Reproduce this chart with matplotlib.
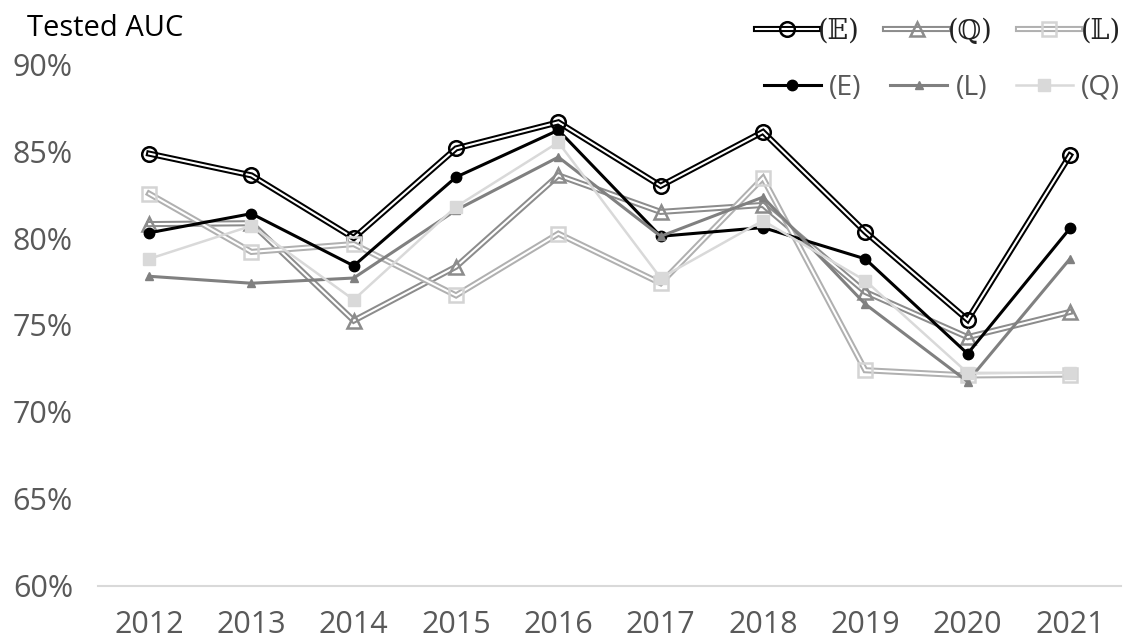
import numpy as np
import matplotlib.pyplot as plt
from matplotlib.legend_handler import HandlerTuple

# 年ごとの AUC (%)
years = ["2012", "2013", "2014", "2015", "2016", "2017", "2018", "2019", "2020", "2021"]
auc_E2 = [84.85, 83.6, 80.0, 85.15, 86.65, 83.0, 86.1, 80.35, 75.3, 84.75]
auc_Q2 = [80.8, 80.85, 75.25, 78.35, 83.6, 81.5, 81.9, 76.9, 74.3, 75.75]
auc_L2 = [82.55, 79.2, 79.65, 76.7, 80.25, 77.4, 83.45, 72.4, 72.1, 72.15]
auc_E = [80.3, 81.4, 78.4, 83.5, 86.2, 80.1, 80.6, 78.8, 73.35, 80.55]
auc_L = [77.8, 77.4, 77.7, 81.6, 84.65, 80.1, 82.35, 76.2, 71.75, 78.8]
auc_Q = [78.8, 80.7, 76.45, 81.8, 85.5, 77.7, 81.0, 77.55, 72.25, 72.25]

x = np.arange(len(years))

fig = plt.figure(figsize=(11.26, 6.39), dpi=100)
ax = fig.add_axes([0.087, 0.083, 0.9086, 0.8168])

tick_font = "Open Sans"
gray_txt = "#595959"


def double_line(vals, color, marker, ms, mec=None, z=2):
    # 二重線: 太い色線の上に白の細線を重ねる
    outer, = ax.plot(x, vals, color=color, lw=4.4, solid_joinstyle="miter", zorder=z)
    inner, = ax.plot(x, vals, color="white", lw=1.5, solid_joinstyle="miter", zorder=z)
    mk, = ax.plot(x, vals, ls="none", marker=marker, ms=ms, mfc="none",
                  mec=mec or color, mew=1.8, zorder=z)
    return (outer, inner, mk)


h_E2 = double_line(auc_E2, "black", "o", 10.5)
h_Q2 = double_line(auc_Q2, "#8c8c8c", "^", 10.5)
h_L2 = double_line(auc_L2, "#b0b0b0", "s", 10, mec="#d4d4d4")

h_E, = ax.plot(x, auc_E, color="black", lw=2.2, marker="o", ms=7.5, zorder=3)
h_L, = ax.plot(x, auc_L, color="#808080", lw=2.2, marker="^", ms=6, zorder=3)
h_Q, = ax.plot(x, auc_Q, color="#d9d9d9", lw=1.8, marker="s", ms=8.5, zorder=3)

ax.set_xlim(-0.5, len(years) - 0.5)
ax.set_ylim(60, 90)
ax.set_yticks(np.arange(60, 91, 5))
ax.set_yticklabels([f"{v}%" for v in range(60, 91, 5)])
ax.set_xticks(x)
ax.set_xticklabels(years)
ax.tick_params(length=0, labelsize=22, labelcolor=gray_txt)
ax.tick_params(axis="x", pad=17)
ax.tick_params(axis="y", pad=18)
for lab in ax.get_xticklabels() + ax.get_yticklabels():
    lab.set_fontfamily(tick_font)

for side in ["top", "right", "left"]:
    ax.spines[side].set_visible(False)
ax.spines["bottom"].set_color("#d9d9d9")
ax.spines["bottom"].set_linewidth(1.5)

fig.text(0.024, 0.955, "Tested AUC", fontsize=21, fontfamily=tick_font,
         color="black", va="center", ha="left")

# 凡例 (上段: 二重線, 下段: 単線)
leg1 = fig.legend([h_E2, h_Q2, h_L2], ["(𝔼)", "(ℚ)", "(𝕃)"],
                  handler_map={tuple: HandlerTuple(ndivide=1)},
                  ncol=3, loc="center right", bbox_to_anchor=(1.0, 0.951),
                  frameon=False, handlelength=2.3, handletextpad=0.0,
                  columnspacing=0.95, borderaxespad=0.0, borderpad=0.2,
                  prop={"family": ["DejaVu Serif", "DejaVu Sans"], "size": 19.5})
for t in leg1.get_texts():
    t.set_color("#222222")

leg2 = fig.legend([h_E, h_L, h_Q], ["(E)", "(L)", "(Q)"],
                  ncol=3, loc="center right", bbox_to_anchor=(1.0, 0.863),
                  frameon=False, handlelength=2.0, handletextpad=0.3,
                  columnspacing=1.0, borderaxespad=0.0, borderpad=0.2,
                  prop={"family": tick_font, "size": 20.5})
for t in leg2.get_texts():
    t.set_color(gray_txt)

fig.savefig("out.png", dpi=100)
